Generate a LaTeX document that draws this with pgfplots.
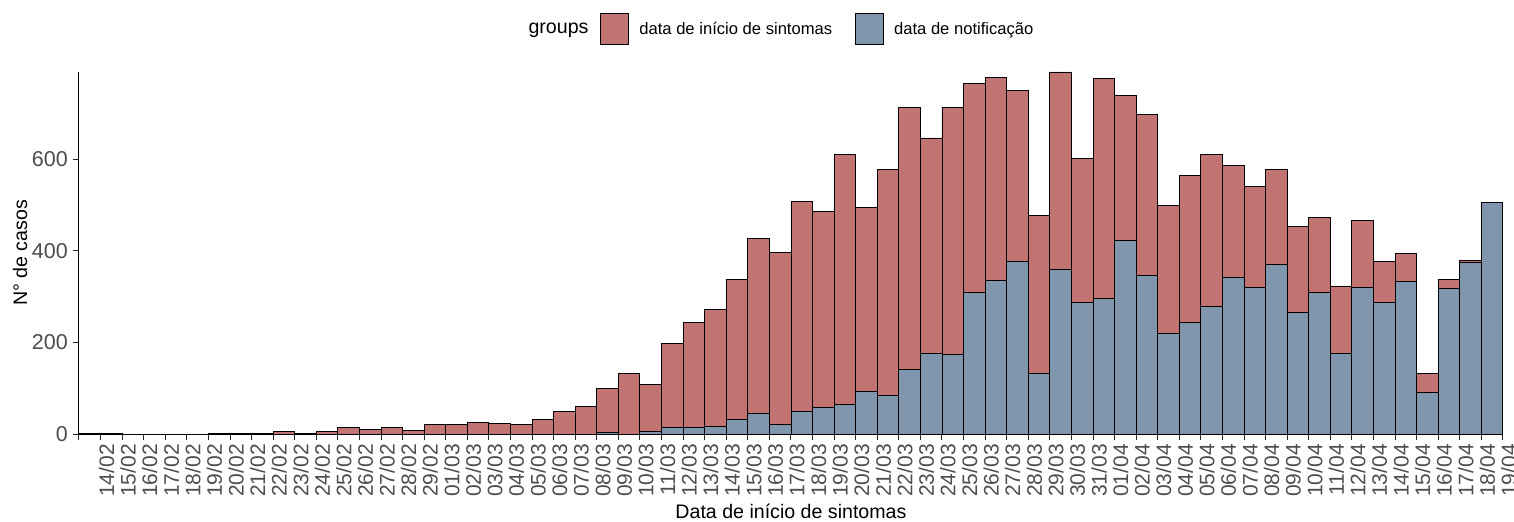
\documentclass[border=0pt]{standalone}
\usepackage{fontspec}
\setmainfont{Liberation Sans}
\usepackage{pgfplots}
\pgfplotsset{compat=1.18}
\definecolor{redbar}{RGB}{194,116,115}
\definecolor{bluebar}{RGB}{128,150,172}
\definecolor{tickgray}{RGB}{77,77,77}
\begin{document}
\begin{tikzpicture}
\path[use as bounding box] (-79bp,-88bp) rectangle (1435bp,434bp);
\begin{axis}[
  scale only axis, width=1424bp, height=362bp,
  xmin=0, xmax=66, ymin=0, ymax=790,
  clip=false,
  axis x line*=bottom, axis y line*=left,
  axis line style={-, line width=1bp, black},
  xtick={0,...,66},
  xticklabels={,14/02,15/02,16/02,17/02,18/02,19/02,20/02,21/02,22/02,23/02,24/02,25/02,26/02,27/02,28/02,29/02,01/03,02/03,03/03,04/03,05/03,06/03,07/03,08/03,09/03,10/03,11/03,12/03,13/03,14/03,15/03,16/03,17/03,18/03,19/03,20/03,21/03,22/03,23/03,24/03,25/03,26/03,27/03,28/03,29/03,30/03,31/03,01/04,02/04,03/04,04/04,05/04,06/04,07/04,08/04,09/04,10/04,11/04,12/04,13/04,14/04,15/04,16/04,17/04,18/04,19/04},
  ytick={0,200,400,600},
  tick align=outside, major tick length=5.5bp,
  tick style={line width=1bp, black!85},
  /pgf/number format/assume math mode=true,
  ticklabel style={text=tickgray},
  xticklabel style={font=\fontsize{21bp}{23bp}\selectfont, rotate=90, anchor=east, inner sep=0pt, xshift=-4.5bp, yshift=-6bp},
  yticklabel style={font=\fontsize{21.5bp}{23bp}\selectfont, anchor=east, inner sep=0pt, xshift=-5.5bp},
  xlabel={Data de início de sintomas},
  ylabel={N° de casos},
  every axis x label/.style={at={(axis description cs:0.5,0)}, anchor=center, yshift=-77bp, font=\fontsize{19.6bp}{21bp}\selectfont},
  every axis y label/.style={at={(axis description cs:0,0.5)}, rotate=90, anchor=center, yshift=59bp, font=\fontsize{19.6bp}{21bp}\selectfont},
  legend columns=-1,
  legend style={draw=none, fill=none, at={(0.4902,1.119)}, anchor=center,
    font=\fontsize{16.6bp}{18bp}\selectfont,
    /tikz/every odd column/.append style={column sep=8bp},
    /tikz/column 2/.append style={column sep=10bp},
    /tikz/column 4/.append style={column sep=21bp}},
]
\addlegendimage{empty legend}
\addlegendentry{\fontsize{19.6bp}{21bp}\selectfont groups}
\addplot[ybar, bar width=1, bar shift=0pt, fill=redbar, draw=black, line width=0.9bp,
  legend image code/.code={\draw[fill=redbar, draw=black, line width=0.9bp] (0bp,-15.5bp) rectangle (28bp,15.5bp);}]
coordinates {
(0.5,2)(1.5,2)(2.5,0)(3.5,0)(4.5,0)(5.5,0)(6.5,1)(7.5,1)(8.5,1)(9.5,5)
(10.5,2)(11.5,5)(12.5,14)(13.5,9)(14.5,15)(15.5,8)(16.5,20)(17.5,20)(18.5,26)(19.5,23)
(20.5,20)(21.5,32)(22.5,50)(23.5,61)(24.5,100)(25.5,132)(26.5,109)(27.5,197)(28.5,244)(29.5,271)
(30.5,338)(31.5,426)(32.5,397)(33.5,508)(34.5,485)(35.5,611)(36.5,494)(37.5,577)(38.5,713)(39.5,646)
(40.5,713)(41.5,764)(42.5,779)(43.5,749)(44.5,476)(45.5,790)(46.5,602)(47.5,775)(48.5,738)(49.5,697)
(50.5,499)(51.5,564)(52.5,611)(53.5,585)(54.5,541)(55.5,577)(56.5,453)(57.5,473)(58.5,323)(59.5,467)
(60.5,376)(61.5,394)(62.5,132)(63.5,338)(64.5,379)(65.5,0)
};
\addlegendentry{data de início de sintomas}
\addplot[ybar, bar width=1, bar shift=0pt, fill=bluebar, draw=black, line width=0.9bp,
  legend image code/.code={\draw[fill=bluebar, draw=black, line width=0.9bp] (0bp,-15.5bp) rectangle (28bp,15.5bp);}]
coordinates {
(24.5,3)(26.5,6)(27.5,14)(28.5,14)(29.5,17)
(30.5,32)(31.5,44)(32.5,20)(33.5,50)(34.5,58)(35.5,64)(36.5,93)(37.5,85)(38.5,140)(39.5,175)
(40.5,173)(41.5,308)(42.5,335)(43.5,376)(44.5,132)(45.5,360)(46.5,288)(47.5,296)(48.5,422)(49.5,346)
(50.5,220)(51.5,243)(52.5,279)(53.5,341)(54.5,320)(55.5,370)(56.5,266)(57.5,308)(58.5,176)(59.5,320)
(60.5,288)(61.5,333)(62.5,91)(63.5,317)(64.5,374)(65.5,505)
};
\addlegendentry{data de notificação}
\end{axis}
\end{tikzpicture}
\end{document}
